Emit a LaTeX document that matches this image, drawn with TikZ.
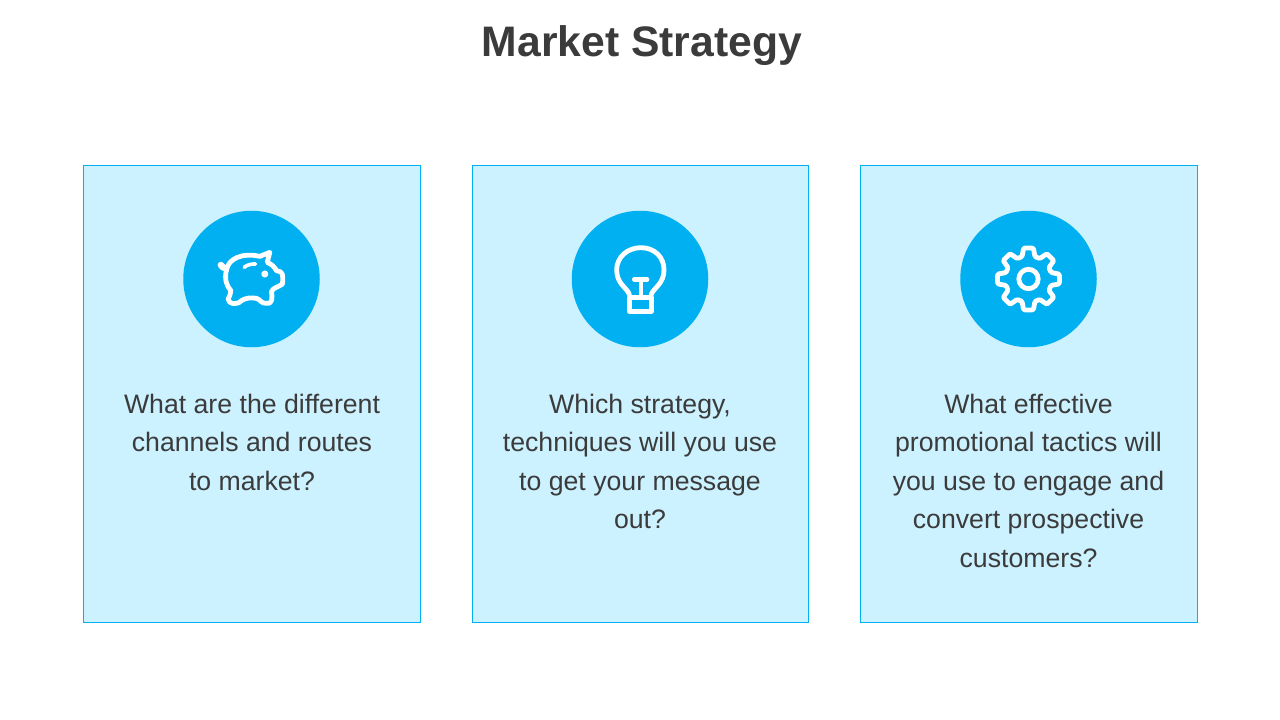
\documentclass[tikz,border=0pt]{standalone}
\usepackage{fontspec}
\setmainfont{Liberation Sans}
\definecolor{cardblue}{HTML}{CCF1FF}
\definecolor{marketblue}{HTML}{00B0F0}
\definecolor{textgrey}{HTML}{3B3B3B}
\tikzset{
  card/.style={rectangle,draw=marketblue,fill=cardblue,line width=0.9pt,minimum height=457pt,inner sep=0pt},
  badge/.style={circle,fill=marketblue,minimum size=136.5pt,inner sep=0pt},
  cardtext/.style={anchor=north,align=center,text=textgrey,inner sep=0pt,font=\fontsize{26.67pt}{38.4pt}\selectfont},
  icon/.style={draw=white,line width=4.8pt,line cap=round,line join=round}
}
\begin{document}
\begin{tikzpicture}[x=1pt,y=-1pt]
  \useasboundingbox (0,0) rectangle (1280,720);
  \fill[white] (0,0) rectangle (1280,720);

  \node[text=textgrey,inner sep=0pt,font=\fontsize{42.67pt}{48pt}\selectfont\bfseries] (title) at (642,46) {Market Strategy};

  \node[card,minimum width=337pt] (card1) at (252,394) {};
  \node[card,minimum width=336pt] (card2) at (640,394) {};
  \node[card,minimum width=337pt] (card3) at (1028.5,394) {};

  \node[badge] (badge1) at (251.5,279) {};
  \node[badge] (badge2) at (640,279) {};
  \node[badge] (badge3) at (1028.5,279) {};

  \node[cardtext] (text1) at (252,394) {What are the different\\channels and routes\\to market?};
  \node[cardtext] (text2) at (640,394) {Which strategy,\\techniques will you use\\to get your message\\out?};
  \node[cardtext] (text3) at (1028.5,394) {What effective\\promotional tactics will\\you use to engage and\\convert prospective\\customers?};

  % piggy bank
  \begin{scope}[shift={(badge1.center)},x=0.3333pt,y=-0.3333pt]
    \draw[icon,line width=6.5pt] (-92,-42) -- (-84,-34);
    \draw[icon] (-84,-34) -- (-75,-27);
    \draw[icon] (-75,-27) .. controls (-70,-60) and (-30,-80) .. (25,-68)
      -- (55,-80) -- (47,-50) .. controls (60,-45) and (70,-35) .. (75,-25)
      .. controls (95,-22) and (95,-15) .. (93,15)
      .. controls (80,25) and (65,25) .. (60,38)
      .. controls (62,55) and (65,75) .. (45,73)
      .. controls (30,75) and (25,60) .. (15,58)
      .. controls (0,55) and (-20,57) .. (-30,65)
      .. controls (-45,80) and (-70,75) .. (-70,60)
      .. controls (-68,50) and (-60,45) .. (-62,35)
      .. controls (-75,20) and (-82,0) .. (-75,-27);
    \draw[icon,line width=3.6pt] (-22,-35) .. controls (-15,-42) and (0,-46) .. (12,-45);
    \draw[icon,line width=3pt] (40,-15) circle (6);
  \end{scope}

  % light bulb
  \begin{scope}[shift={(badge2.center)},x=0.3333pt,y=-0.3333pt]
    \draw[icon] (-32,46) .. controls (-40,25) and (-70,15) .. (-70,-28)
      .. controls (-70,-65) and (-38,-94) .. (3,-94)
      .. controls (44,-94) and (72,-65) .. (72,-28)
      .. controls (72,15) and (42,25) .. (34,46);
    \draw[icon] (-32,56) rectangle (34,97);
    \draw[icon] (-17,1) -- (21,1) (3,1) -- (3,56);
  \end{scope}

  % gear
  \begin{scope}[shift={(badge3.center)},x=0.3333pt,y=-0.3333pt]
    \draw[icon,rounded corners=1.2pt] (-16:70)
      \foreach \a in {0,45,...,315}{ -- (\a-16:70) -- (\a-9:94) -- (\a+9:94) -- (\a+16:70) } -- cycle;
    \draw[icon] (0,0) circle (29);
  \end{scope}
\end{tikzpicture}
\end{document}
